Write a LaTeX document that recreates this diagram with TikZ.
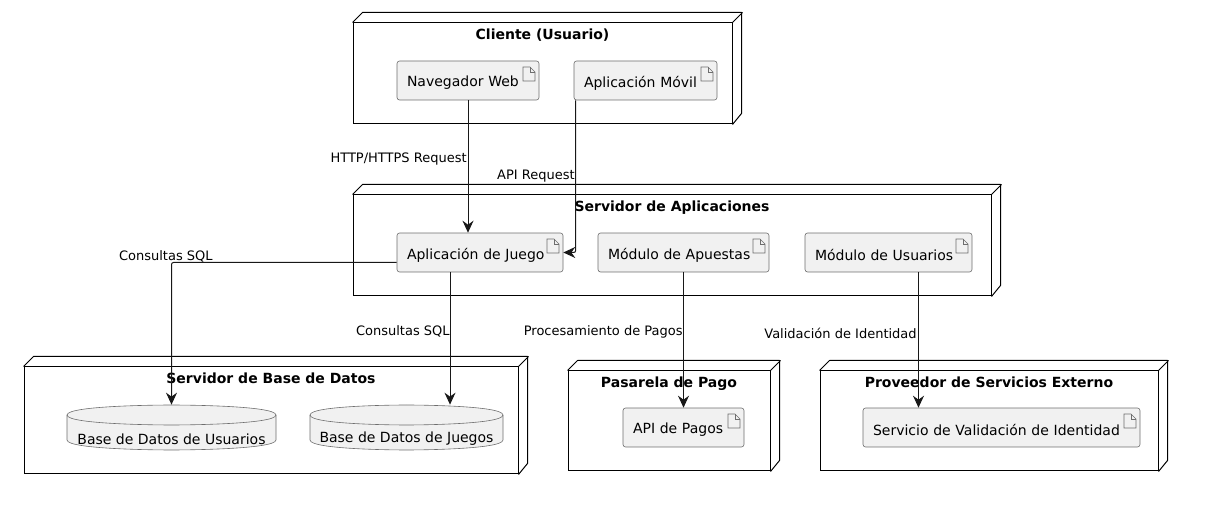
\documentclass[tikz,border=0pt]{standalone}
\usepackage{fontspec}
\setmainfont{DejaVu Sans}
\usetikzlibrary{arrows.meta, positioning}
\definecolor{boxfill}{HTML}{F1F1F1}
\definecolor{boxline}{HTML}{181818}
\definecolor{itemgray}{HTML}{6E6E6E}
\tikzset{
    framebox/.style={draw=black, line width=0.02cm, inner sep=0pt},
    frametitle/.style={font=\bfseries\fontsize{7.97}{9.5}\selectfont, inner sep=0pt},
    itembox/.style={draw=itemgray, line width=0.012cm, fill=boxfill, rounded corners=0.05cm, inner xsep=0.2cm, inner ysep=0pt, align=left, font=\fontsize{7.97}{9.5}\selectfont},
    itemline/.style={draw=itemgray, line width=0.012cm},
    dbtext/.style={inner sep=0pt, font=\fontsize{7.97}{9.5}\selectfont},
    edgetext/.style={inner sep=0pt, anchor=east, font=\fontsize{7.4}{9}\selectfont},
    conn/.style={draw=boxline, line width=0.02cm, rounded corners=0.04cm, -{Stealth[length=0.24cm, width=0.22cm, inset=0.08cm]}}
}

\begin{document}
\begin{tikzpicture}[x=0.02cm, y=-0.02cm]
    \useasboundingbox (0,0) rectangle (1210,509);

    % Draw the outer 3D frames
    \foreach \name/\xa/\xb/\ya/\yb/\txt in {cliente/353/732/23/124/{Cliente (Usuario)},
        aplic/353/991/195/296/{Servidor de Aplicaciones},
        datos/24/518/367/474/{Servidor de Base de Datos},
        pago/568/770/371/471/{Pasarela de Pago},
        externo/820/1158/371/471/{Proveedor de Servicios Externo}} {
        \node[framebox, minimum width={(\xb-\xa)*0.02cm}, minimum height={(\yb-\ya)*0.02cm}] (\name) at ({(\xa+\xb)/2},{(\ya+\yb)/2}) {};
        \draw[line width=0.02cm, line join=round] (\name.north west) -- ++(10,-10) -- ++({\xb-\xa},0) -- ++(0,{\yb-\ya}) -- (\name.south east);
        \draw[line width=0.02cm] (\name.north east) -- ++(10,-10);
        \node[frametitle, below=0.13cm of \name.north] (\name title) {\txt};
    }

    % Draw the artifacts
    \foreach \name/\xa/\xb/\ya/\txt in {nav/397/539/61/{Navegador Web},
        movil/574/717/61/{Aplicación Móvil},
        juego/397/563/233/{Aplicación de Juego},
        apuestas/598/769/233/{Módulo de Apuestas},
        usuarios/805/972/233/{Módulo de Usuarios},
        pagos/623/744/408/{API de Pagos},
        validacion/863/1140/408/{Servicio de Validación de Identidad}} {
        \node[itembox, text width={(\xb-\xa-20)*0.02cm}, minimum height=0.78cm] (\name) at ({(\xa+\xb)/2},{\ya+19.5}) {\raisebox{-0.05cm}[\height][\depth]{\txt}};
        \draw[itemline] ({\xb-16},{\ya+6}) -- ++(7,0) -- ++(5,5) -- ++(0,9) -- ++(-12,0) -- cycle;
        \draw[itemline] ({\xb-9},{\ya+6}) -- ++(0,5) -- ++(5,0);
    }

    % Draw the databases
    \foreach \name/\xa/\xb/\txt in {dbusuarios/67/276/{Base de Datos de Usuarios},
        dbjuegos/310/503/{Base de Datos de Juegos}} {
        \draw[itemline, fill=boxfill] (\xa,415) .. controls (\xa,405) and ({(\xa+\xb)/2},405) .. ({(\xa+\xb)/2},405)
            .. controls ({(\xa+\xb)/2},405) and (\xb,405) .. (\xb,415) -- (\xb,440)
            .. controls (\xb,450) and ({(\xa+\xb)/2},450) .. ({(\xa+\xb)/2},450)
            .. controls ({(\xa+\xb)/2},450) and (\xa,450) .. (\xa,440) -- cycle;
        \draw[itemline] (\xa,415) .. controls (\xa,425) and ({(\xa+\xb)/2},425) .. ({(\xa+\xb)/2},425)
            .. controls ({(\xa+\xb)/2},425) and (\xb,425) .. (\xb,415);
        \node[minimum width={(\xb-\xa)*0.02cm}, minimum height=0.9cm, inner sep=0pt] (\name) at ({(\xa+\xb)/2},427.5) {};
        \node[dbtext] (\name text) at ({(\xa+\xb)/2},439) {\txt};
    }

    % Draw the connectors
    \draw[conn] (nav.south) -- (nav.south |- juego.north);
    \draw[conn] ([xshift=0.04cm]movil.south west) |- (juego.east);
    \draw[conn] ([yshift=-0.2cm]juego.west) -| (dbusuarios.north);
    \draw[conn] ([xshift=-0.6cm]juego.south) -- ([xshift=-0.6cm]juego.south |- dbjuegos.north);
    \draw[conn] (apuestas.south) -- (pagos.north);
    \draw[conn] ([xshift=0.6cm]usuarios.south) -- ([xshift=0.6cm]usuarios.south |- validacion.north);

    % Add edge labels
    \node[edgetext] (httplabel) at (467,159) {HTTP/HTTPS Request};
    \node[edgetext] (apilabel) at (575,176) {API Request};
    \node[edgetext] (sqlusuarios) at (213,256) {Consultas SQL};
    \node[edgetext] (sqljuegos) at (450,331) {Consultas SQL};
    \node[edgetext] (pagoslabel) at (683,332) {Procesamiento de Pagos};
    \node[edgetext] (identlabel) at (917,333) {Validación de Identidad};
\end{tikzpicture}
\end{document}
